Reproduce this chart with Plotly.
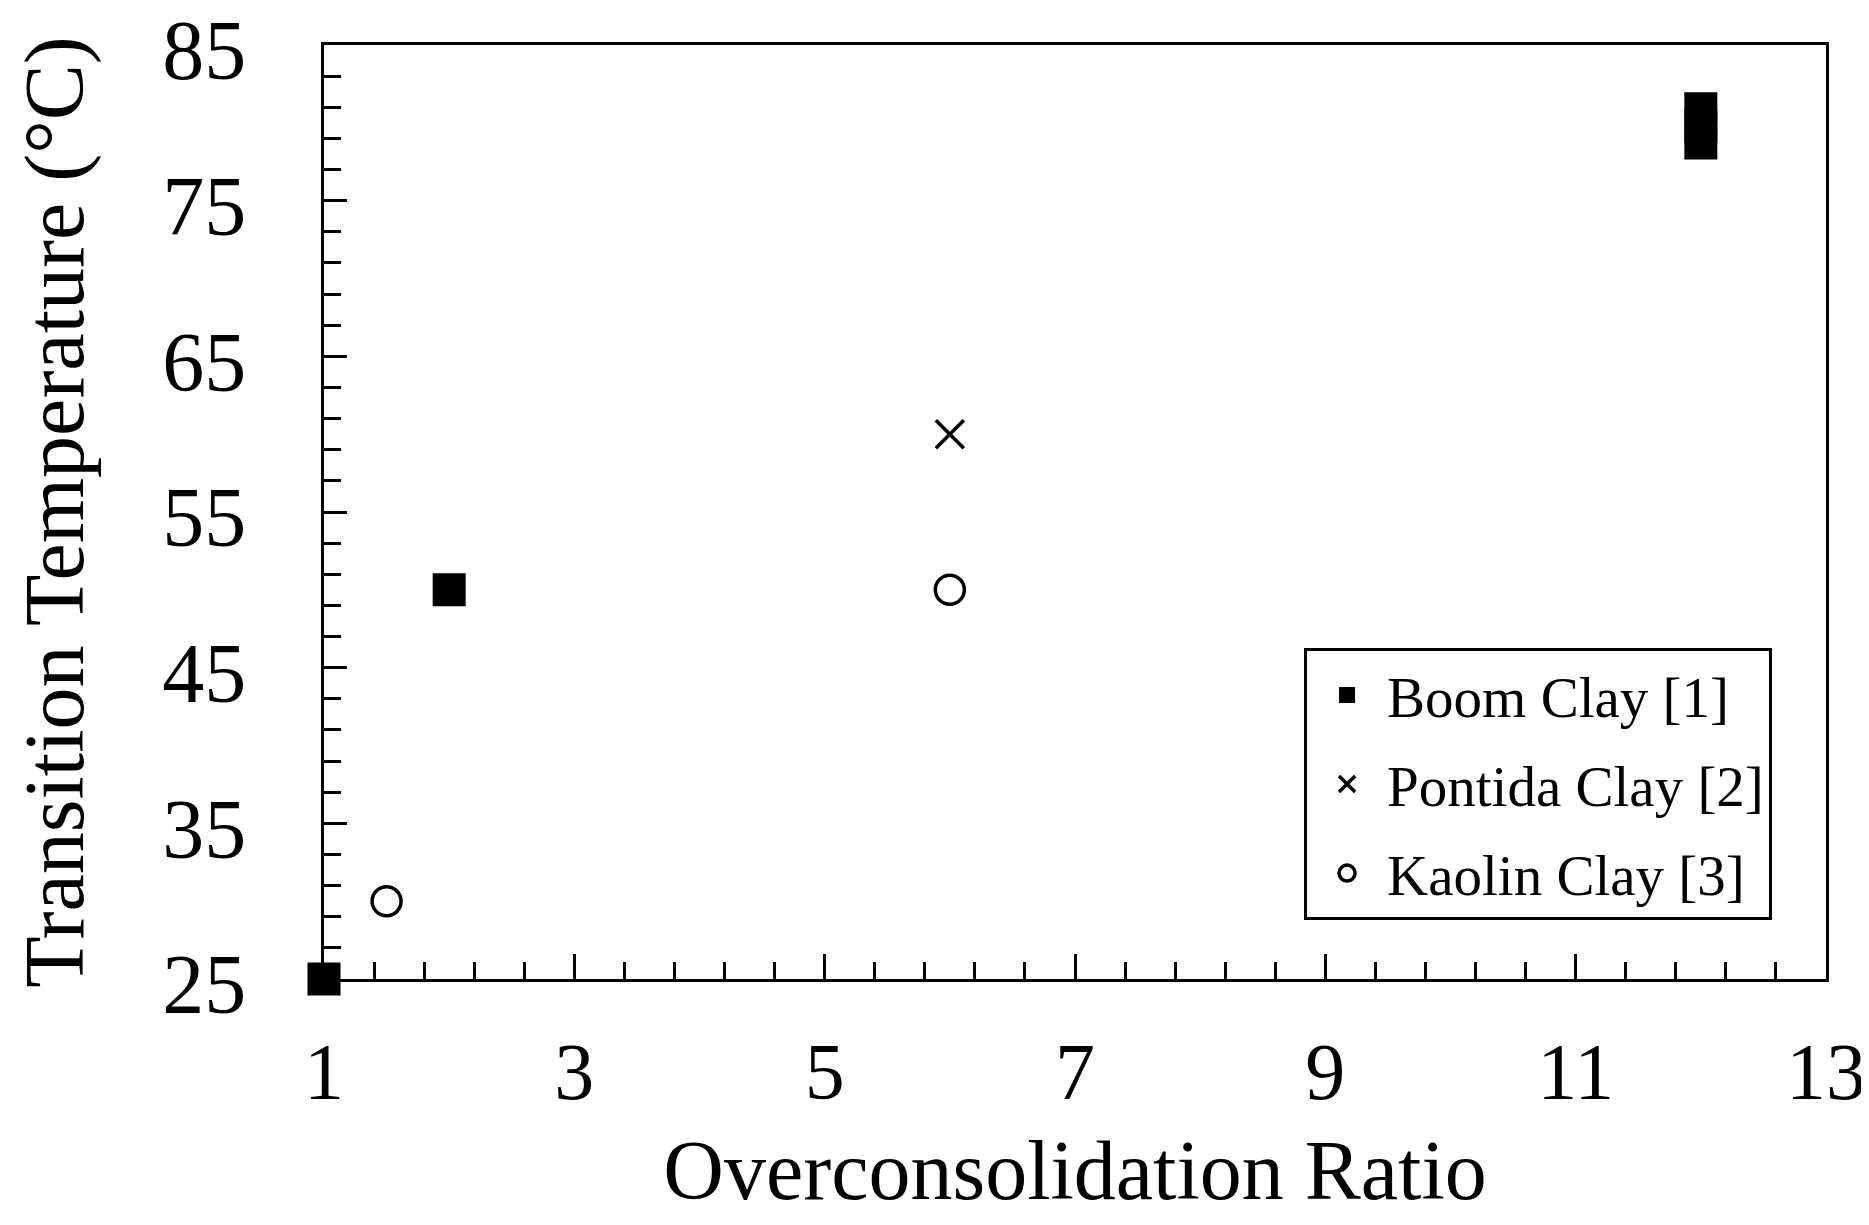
import plotly.graph_objects as go

# Data
boom_ocr = [1, 2, 12, 12, 12]
boom_temp = [25, 50, 80.9, 79.8, 78.7]
pontida_ocr = [6]
pontida_temp = [60]
kaolin_ocr = [1.5, 6]
kaolin_temp = [30, 50]

x_ticks = [1, 3, 5, 7, 9, 11, 13]
y_ticks = [25, 35, 45, 55, 65, 75, 85]

FONT = "Liberation Serif, Times New Roman, serif"

fig = go.Figure()
fig.add_trace(go.Scatter(
    x=boom_ocr, y=boom_temp, mode="markers", name="Boom Clay [1]",
    legendgroup="a",
    marker=dict(symbol="square", size=33, color="black", line=dict(width=0)),
    cliponaxis=False))
fig.add_trace(go.Scatter(
    x=pontida_ocr, y=pontida_temp, mode="markers", name="Pontida Clay [2]",
    legendgroup="b",
    marker=dict(symbol="x-thin-open", size=28, color="black",
                line=dict(width=3.5, color="black")),
    cliponaxis=False))
fig.add_trace(go.Scatter(
    x=kaolin_ocr, y=kaolin_temp, mode="markers", name="Kaolin Clay [3]",
    legendgroup="c",
    marker=dict(symbol="circle-open", size=29, color="black",
                line=dict(width=3.5, color="black")),
    cliponaxis=False))

axis_common = dict(
    showline=True, linecolor="black", linewidth=3, mirror=True,
    showgrid=False, zeroline=False,
    ticks="inside", tickcolor="black", tickwidth=3,
    ticklabeloverflow="allow",
)

fig.update_xaxes(
    **axis_common,
    range=[1, 13], tickvals=x_ticks, ticktext=[str(v) for v in x_ticks],
    tickfont=dict(family=FONT, size=80, color="black"),
    ticklen=25, ticklabelstandoff=21,
    minor=dict(ticks="inside", dtick=0.4, tick0=1, ticklen=17,
               tickwidth=3, tickcolor="black", showgrid=False),
    title=dict(text="Overconsolidation Ratio",
               font=dict(family=FONT, size=84, color="black"), standoff=38),
)
fig.update_yaxes(
    **axis_common,
    range=[25, 85], tickvals=y_ticks, ticktext=[str(v) for v in y_ticks],
    tickfont=dict(family=FONT, size=84, color="black"),
    ticklen=23, ticklabelstandoff=58, ticklabelshift=5,
    minor=dict(ticks="inside", dtick=2, tick0=25, ticklen=17,
               tickwidth=3, tickcolor="black", showgrid=False),
    title=dict(text="Transition Temperature (°C)",
               font=dict(family=FONT, size=84, color="black"), standoff=52),
)

fig.update_layout(
    width=1861, height=1209,
    margin=dict(l=316, r=43, t=37, b=238, autoexpand=False),
    paper_bgcolor="white", plot_bgcolor="white",
    font=dict(family=FONT, color="black"),
    legend=dict(
        x=0.6525, y=0.354, xanchor="left", yanchor="top",
        bordercolor="black", borderwidth=3, bgcolor="white",
        font=dict(family=FONT, size=57, color="black"),
        tracegroupgap=12, itemwidth=70,
    ),
)

fig.write_html("out.html")
